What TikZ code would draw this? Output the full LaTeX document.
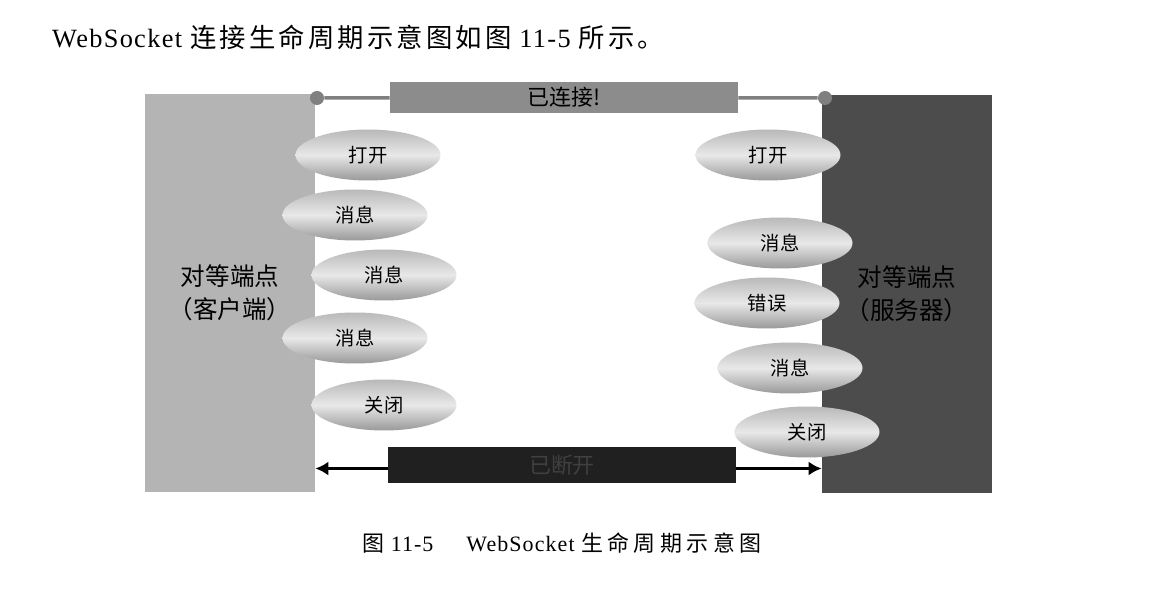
\documentclass[tikz,border=0pt]{standalone}
\usepackage{fontspec}
\setmainfont{Liberation Serif}
\newfontfamily\cjk{Noto Sans CJK SC}
\newfontfamily\cjkwide[LetterSpace=20]{Noto Sans CJK SC}
\newfontfamily\cjkbody[LetterSpace=12]{Noto Sans CJK SC}
\newfontfamily\latwide[LetterSpace=5]{Liberation Serif}
\usetikzlibrary{arrows.meta,positioning,shapes.geometric}
\definecolor{ClientGray}{HTML}{B4B4B4}
\definecolor{ServerGray}{HTML}{4C4C4C}
\definecolor{OpenBar}{HTML}{8C8C8C}
\definecolor{ShutBar}{HTML}{202020}
\definecolor{Wire}{HTML}{808080}
\tikzset{
 peer/.style={rectangle,minimum width=3.4cm,minimum height=7.98cm,align=center,inner sep=0pt,font=\cjk\fontsize{14}{19}\selectfont},
 state/.style={rectangle,minimum width=6.96cm,inner sep=0pt,font=\cjk\fontsize{12.5}{14}\selectfont},
 event/.style={ellipse,minimum width=2.9cm,minimum height=1.02cm,inner sep=0pt,top color=gray!55,bottom color=gray!80,middle color=gray!18,font=\cjk\fontsize{11}{13}\selectfont},
 joint/.style={circle,fill=Wire,inner sep=0pt,minimum size=0.28cm},
 wire/.style={draw=Wire,line width=2pt},
 arr/.style={-{Latex[length=2.6mm,width=2.8mm]},line width=2pt,draw=black}
}
\begin{document}
\begin{tikzpicture}[x=0.02cm,y=-0.02cm]
\useasboundingbox[fill=white] (0,0) rectangle (1165,590);
\node[anchor=west,font=\latwide\fontsize{15}{17}\selectfont] (intro) at (46,37) {WebSocket {\cjkbody 连接生命周期示意图如图} 11-5 {\cjkbody 所示。}};
% the two peers
\node[peer,fill=ClientGray] (client) at (230,293) {对等端点\\（客户端）};
\node[peer,fill=ServerGray,text=black] (server) at (907,294) {对等端点\\（服务器）};
% connection state bars
\node[state,fill=OpenBar,minimum height=0.62cm] (open) at (564,97.5) {已连接!};
\node[state,fill=ShutBar,minimum height=0.72cm,text=black!75] (shut) at (562,465) {已断开};
% client side events
\node[event] (c1) at (368,155) {打开};
\node[event] (c2) at (355,215) {消息};
\node[event] (c3) at (384,275) {消息};
\node[event] (c4) at (355,338) {消息};
\node[event] (c5) at (384,405) {关闭};
% server side events
\node[event] (s1) at (768,155) {打开};
\node[event] (s2) at (780,243) {消息};
\node[event] (s3) at (767,303) {错误};
\node[event] (s4) at (790,368) {消息};
\node[event] (s5) at (807,432) {关闭};
\node[joint] (jl) at (317,98) {};
\node[joint] (jr) at (825,98) {};
\foreach \x/\y in {jl/open,open/jr} \draw[wire] (\x)--(\y);
\draw[arr] ([yshift=-2pt]shut.west) -- ([yshift=-2pt]shut.west -| client.east);
\draw[arr] ([yshift=-2pt]shut.east) -- ([yshift=-2pt]shut.east -| server.west);
\node[anchor=west,font=\latwide\fontsize{12.5}{14}\selectfont] (caption) at (356,543) {{\cjkwide 图} 11-5\hspace{1.5em}WebSocket {\cjkwide 生命周期示意图}};
\end{tikzpicture}
\end{document}
